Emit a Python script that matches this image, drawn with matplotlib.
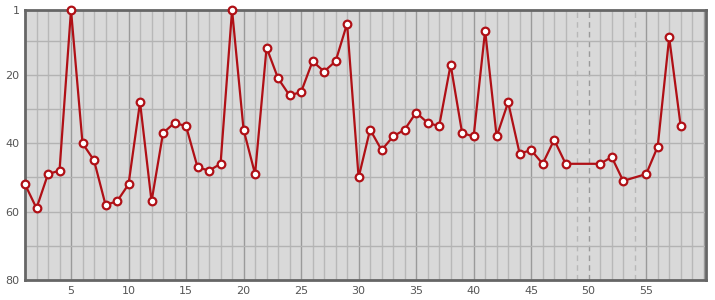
import numpy as np
import matplotlib.pyplot as plt

# round number and position (None = no result that round)
rounds = list(range(1, 59))
positions = [52, 59, 49, 48, 1, 40, 45, 58, 57, 52,
             28, 57, 37, 34, 35, 47, 48, 46, 1, 36,
             49, 12, 21, 26, 25, 16, 19, 16, 5, 50,
             36, 42, 38, 36, 31, 34, 35, 17, 37, 38,
             7, 38, 28, 43, 42, 46, 39, 46, None, None,
             46, 44, 51, None, 49, 41, 9, 35]

y_ticks = [1, 20, 40, 60, 80]
x_ticks = [5, 10, 15, 20, 25, 30, 35, 40, 45, 50, 55]

x = [r for r, p in zip(rounds, positions) if p is not None]
y = [p for p in positions if p is not None]
missing = [r for r, p in zip(rounds, positions) if p is None]

fig = plt.figure(figsize=(7.15, 3.0), dpi=100)
ax = fig.add_axes([25 / 715, 20 / 300, 681 / 715, 270 / 300])
ax.set_facecolor('#d9d9d9')

ax.set_xlim(1, 60.2)
ax.set_ylim(80, 1)

# grid: minor every round, major every 5, horizontal every 10
for r in range(2, 61):
    major = r % 5 == 0
    col = '#9a9a9a' if major else '#b8b8b8'
    ls = (0, (4, 3)) if r in missing else '-'
    ax.axvline(r, color=col, lw=1, ls=ls, zorder=1)
for v in range(10, 80, 10):
    ax.axhline(v, color='#b3b3b3', lw=1, zorder=1)

ax.plot(x, y, color='#b01016', lw=1.6, marker='o', ms=5.5,
        mfc='white', mec='#b01016', mew=1.6, zorder=3, clip_on=False)

ax.set_yticks(y_ticks)
ax.set_xticks(x_ticks)
ax.tick_params(length=0, labelsize=8, colors='#555555', pad=4)

for s in ax.spines.values():
    s.set_color('#666666')
    s.set_linewidth(2)

fig.savefig('out.png', dpi=100)
